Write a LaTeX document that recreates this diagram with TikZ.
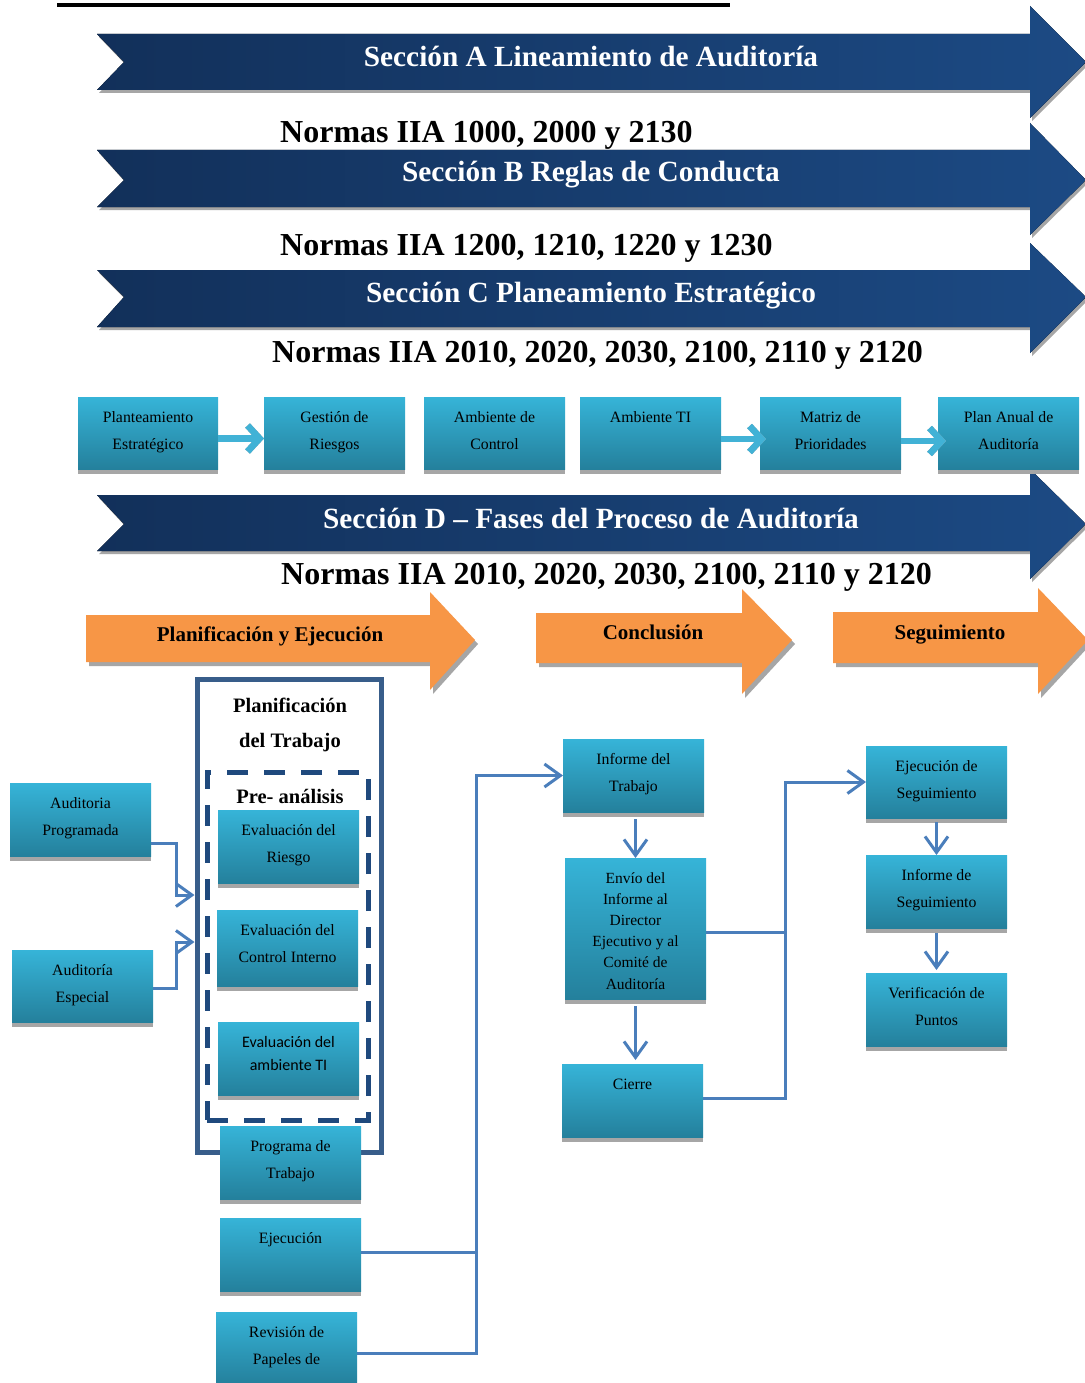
\documentclass[tikz,border=0pt]{standalone}
\usepackage{fontspec}
\setmainfont{Liberation Serif}
\newfontfamily\carlitofont{Carlito}
\usetikzlibrary{arrows.meta,shadows}
\definecolor{navyL}{RGB}{18,48,90}
\definecolor{navyR}{RGB}{28,74,132}
\definecolor{shgray}{RGB}{166,166,166}
\definecolor{cTop}{RGB}{54,180,216}
\definecolor{cBot}{RGB}{36,128,156}
\definecolor{orng}{RGB}{247,150,70}
\definecolor{lnblue}{RGB}{74,126,187}
\definecolor{frblue}{RGB}{56,93,138}
\definecolor{dshblue}{RGB}{31,73,125}
\definecolor{sablue}{RGB}{65,178,214}
\tikzset{
  cbox/.style={inner sep=0pt, outer sep=0pt, anchor=north west, top color=cTop, bottom color=cBot,
    general shadow={fill=shgray, shadow yshift=-5pt}, font=\fontsize{15.8}{27}\selectfont},
  conn/.style={draw=lnblue, line width=3pt, -{Straight Barb[length=16pt, width=23pt]}},
  plainln/.style={draw=lnblue, line width=3pt},
  sarrow/.style={draw=sablue, line width=6.5pt, -{Straight Barb[length=12pt, width=26pt]}},
  sarrowsh/.style={draw=shgray, line width=6.5pt, -{Straight Barb[length=12pt, width=26pt]}, shift={(1.5pt,-3pt)}},
  sectitle/.style={text=white, font=\fontsize{29.3}{34}\selectfont\bfseries, anchor=base, inner sep=0pt},
  normas/.style={font=\fontsize{32}{36}\selectfont\bfseries, anchor=base west, inner sep=0pt},
  phase/.style={font=\fontsize{21}{25}\selectfont\bfseries, anchor=base, inner sep=0pt},
  ttl/.style={font=\fontsize{20.5}{25}\selectfont\bfseries, anchor=base, inner sep=0pt},
}
\newcommand\cbx[6]{\node[cbox] (#1) at (#2,#3) {\parbox[c][#5pt][t]{#4pt}{\centering\rule{0pt}{25pt}#6}};}
\newcommand\secarrow[5]{%
  \fill[shgray, shift={(2pt,-3pt)}] (97,#1) -- (1030,#1) -- (1030,#3) -- (1086,#5) -- (1030,#4) -- (1030,#2) -- (97,#2) -- (124,#5) -- cycle;
  \fill[left color=navyL, right color=navyR] (97,#1) -- (1030,#1) -- (1030,#3) -- (1086,#5) -- (1030,#4) -- (1030,#2) -- (97,#2) -- (124,#5) -- cycle;}
\newcommand\orarrow[8]{%
  \fill[shgray, shift={(3pt,-4pt)}] (#1,#4) -- (#2,#4) -- (#2,#6) -- (#3,#8) -- (#2,#7) -- (#2,#5) -- (#1,#5) -- cycle;
  \fill[orng] (#1,#4) -- (#2,#4) -- (#2,#6) -- (#3,#8) -- (#2,#7) -- (#2,#5) -- (#1,#5) -- cycle;}
\begin{document}
\begin{tikzpicture}[x=1pt, y=-1pt]
\useasboundingbox (0,0) rectangle (1084,1383);
\fill[white] (0,0) rectangle (1084,1383);
% top rule
\draw[line width=4.5pt] (57,5) -- (730,5);
% section arrows
\secarrow{34}{90}{6}{118}{62}
\secarrow{150}{207}{123}{235}{180}
\secarrow{270}{327}{243}{353}{297}
\secarrow{495}{551}{469}{579}{524}
\node[sectitle] (tA) at (591,67) {Sección A Lineamiento de Auditoría};
\node[sectitle] (tB) at (591,182) {Sección B Reglas de Conducta};
\node[sectitle] (tC) at (591,302) {Sección C Planeamiento Estratégico};
\node[sectitle] (tD) at (591,528) {Sección D – Fases del Proceso de Auditoría};
\node[normas] (n1) at (280,143) {Normas IIA 1000, 2000 y 2130};
\node[normas] (n2) at (280,255) {Normas IIA 1200, 1210, 1220 y 1230};
\node[normas] (n3) at (272,362) {Normas IIA 2010, 2020, 2030, 2100, 2110 y 2120};
\node[normas] (n4) at (281,584) {Normas IIA 2010, 2020, 2030, 2100, 2110 y 2120};
% row of section C
\cbx{b1}{78}{397}{140}{72}{Planteamiento\\Estratégico}
\cbx{b2}{264}{397}{141}{72}{Gestión de\\Riesgos}
\cbx{b3}{424}{397}{141}{72}{Ambiente de\\Control}
\cbx{b4}{580}{397}{141}{72}{Ambiente TI}
\cbx{b5}{760}{397}{141}{72}{Matriz de\\Prioridades}
\cbx{b6}{938}{397}{141}{72}{Plan Anual de\\Auditoría}
\draw[sarrowsh] ([yshift=-5.5pt]b1.east) -- ([yshift=-5.5pt]b2.west);
\draw[sarrow] ([yshift=-5.5pt]b1.east) -- ([yshift=-5.5pt]b2.west);
\draw[sarrowsh, shorten >=-6pt] ([yshift=-6pt]b4.east) -- ([yshift=-6pt]b5.west);
\draw[sarrow, shorten >=-6pt] ([yshift=-6pt]b4.east) -- ([yshift=-6pt]b5.west);
\draw[sarrowsh, shorten >=-8pt] ([yshift=-8pt]b5.east) -- ([yshift=-8pt]b6.west);
\draw[sarrow, shorten >=-8pt] ([yshift=-8pt]b5.east) -- ([yshift=-8pt]b6.west);
% phase arrows
\orarrow{86}{430}{475}{615}{662}{592}{690}{640}
\orarrow{536}{742}{792}{613}{663}{589}{694}{640}
\orarrow{833}{1038}{1088}{612}{663}{588}{694}{640}
\node[phase] (ph1) at (270,641) {Planificación y Ejecución};
\node[phase] (ph2) at (653,639) {Conclusión};
\node[phase] (ph3) at (950,639) {Seguimiento};
% planning frame
\node[draw=frblue, line width=5pt, minimum width=184pt, minimum height=473pt, inner sep=0pt] (frame) at (289,915.5) {};
\node[ttl] (pl1) at (290,712) {Planificación};
\node[ttl] (pl2) at (290,747) {del Trabajo};
\node[draw=dshblue, line width=5pt, dash pattern=on 21pt off 16pt, minimum width=161pt, minimum height=348pt, inner sep=0pt] (pre) at (287.5,946) {};
\node[ttl] (prel) at (290,803) {Pre- análisis};
\cbx{er}{218}{810}{141}{73}{Evaluación del\\Riesgo}
\cbx{eci}{217}{910}{141}{76}{Evaluación del\\Control Interno}
\cbx{eti}{218}{1022}{141}{73}{\carlitofont\fontsize{16}{23}\selectfont Evaluación del\\ambiente TI}
\cbx{pt}{220}{1126}{141}{73}{Programa de\\Trabajo}
\cbx{ej}{220}{1218}{141}{73}{Ejecución}
\cbx{rp}{216}{1312}{141}{72}{Revisión de\\Papeles de}
\cbx{ap}{10}{783}{141}{73}{Auditoria\\Programada}
\cbx{ae}{12}{950}{141}{72}{Auditoría\\Especial}
% conclusion column
\cbx{it}{563}{739}{141}{73}{Informe del\\Trabajo}
\cbx{env}{565}{858}{141}{141}{\fontsize{15.5}{21.2}\selectfont Envío del\\Informe al\\Director\\Ejecutivo y al\\Comité de\\Auditoría}
\cbx{ci}{562}{1064}{141}{73}{Cierre}
% follow-up column
\cbx{es}{866}{746}{141}{72}{Ejecución de\\Seguimiento}
\cbx{is}{866}{855}{141}{73}{Informe de\\Seguimiento}
\cbx{vp}{866}{973}{141}{73}{Verificación de\\Puntos}
% connectors
\draw[conn] ([yshift=-23.5pt]ap.east) -- ++(25,0) |- ([yshift=20.5pt]frame.west);
\draw[conn] ([yshift=-2pt]ae.east) -- ++(23,0) |- ([yshift=-26.5pt]frame.west);
\coordinate (v1) at (476,1252);
\coordinate (v2) at (476,1353);
\draw[plainln] ([yshift=2.5pt]ej.east) -- (v1);
\draw[conn] ([yshift=-5pt]rp.east) -- (v2) |- (it.west);
\draw[conn, shorten <=7pt] (env.north |- it.south) -- (env.north);
\draw[conn, shorten <=7pt, shorten >=4pt] (env.south) -- (env.south |- ci.north);
\coordinate (v3) at (785,932);
\coordinate (v4) at (785,1098);
\draw[plainln] ([yshift=-3.5pt]env.east) -- (v3);
\draw[conn] ([yshift=2.5pt]ci.east) -- (v4) |- (es.west);
\draw[conn, shorten <=4pt] (es.south) -- (is.north);
\draw[conn, shorten <=5pt, shorten >=3pt] (is.south) -- (vp.north);
\end{tikzpicture}
\end{document}
